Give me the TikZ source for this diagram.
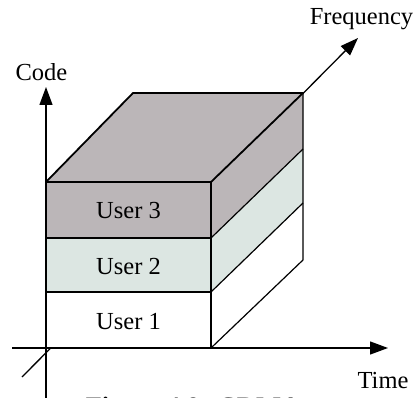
\documentclass[tikz,border=0pt]{standalone}
\usepackage{fontspec}
\setmainfont{Liberation Serif}
\usetikzlibrary{arrows.meta}
\definecolor{userthree}{HTML}{BBB6B8}
\definecolor{usertwo}{HTML}{DCE6E2}
\begin{document}
\begin{tikzpicture}[x=1pt,y=-1pt,
  axis/.style={line width=1.3pt,-{Triangle[length=18pt,width=13pt]}},
  frontedge/.style={line width=1.8pt,line join=round,line cap=round},
  sideedge/.style={line width=1.2pt,line join=round},
  lbl/.style={font=\fontsize{24.5}{29}\selectfont,inner sep=0pt,anchor=base},
  captionstyle/.style={font=\fontsize{26.5}{31}\selectfont\bfseries,inner sep=0pt,anchor=base}]
\useasboundingbox (0,0) rectangle (418,398);
\clip (0,0) rectangle (418,398);

% axis end points
\coordinate (codeS) at (46,398);
\coordinate (codeE) at (46,87);
\coordinate (timeS) at (12,348);
\coordinate (timeE) at (388,348);
\coordinate (freqS) at (22,377);
\coordinate (freqE) at (358,38);

% corners of the block
\coordinate (ftl) at (46,182);
\coordinate (ftr) at (211,182);
\coordinate (f32l) at (46,238);
\coordinate (f32r) at (211,238);
\coordinate (f21l) at (46,292);
\coordinate (f21r) at (211,292);
\coordinate (fbl) at (46,348);
\coordinate (fbr) at (211,348);
\coordinate (btl) at (133,93);
\coordinate (btr) at (303,93);
\coordinate (s32) at (303,149);
\coordinate (s21) at (303,203);
\coordinate (sbr) at (303,260);

% frequency axis runs behind the block
\draw[axis] (freqS) -- (freqE);

% faces
\fill[userthree] (ftl) -- (btl) -- (btr) -- (ftr) -- cycle;
\fill[userthree] (ftl) rectangle (f32r);
\fill[usertwo] (f32l) rectangle (f21r);
\fill[white] (f21l) rectangle (fbr);
\fill[userthree] (ftr) -- (btr) -- (s32) -- (f32r) -- cycle;
\fill[usertwo] (f32r) -- (s32) -- (s21) -- (f21r) -- cycle;
\fill[white] (f21r) -- (s21) -- (sbr) -- (fbr) -- cycle;

% side edges
\draw[sideedge] (btr) -- (sbr) -- (fbr);
\draw[sideedge] (f32r) -- (s32);
\draw[sideedge] (f21r) -- (s21);

% front and top edges
\draw[frontedge] (ftl) -- (btl) -- (btr);
\draw[frontedge] (ftr) -- (btr);
\draw[frontedge] (ftl) -- (ftr) -- (fbr);
\draw[frontedge] (f32l) -- (f32r);
\draw[frontedge] (f21l) -- (f21r);

% code and time axes
\draw[axis] (timeS) -- (timeE);
\draw[axis] (codeS) -- (codeE);

% labels
\node[lbl] (code) at (41.5,81) {Code};
\node[lbl] (freq) at (361.5,25) {Frequency};
\node[lbl] (time) at (383,388) {Time};
\node[lbl] (user3) at (128.5,219) {User 3};
\node[lbl] (user2) at (128.5,275) {User 2};
\node[lbl] (user1) at (128.5,330) {User 1};
\node[captionstyle] (caption) at (193,415) {Figure 4.9: CDMA};
\end{tikzpicture}
\end{document}
